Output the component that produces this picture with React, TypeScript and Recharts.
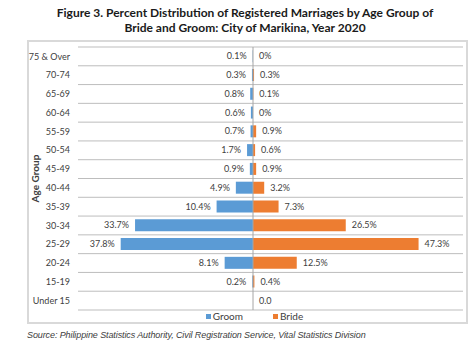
import { BarChart, Bar, XAxis, YAxis, CartesianGrid, Legend, LabelList, ReferenceLine } from "recharts";

// Age groups, top to bottom as in the figure
const ageGroups = [
  "75 & Over", "70-74", "65-69", "60-64", "55-59", "50-54", "45-49",
  "40-44", "35-39", "30-34", "25-29", "20-24", "15-19", "Under 15",
];

// Percent of registered marriages
const groomPct = [0.1, 0.3, 0.8, 0.6, 0.7, 1.7, 0.9, 4.9, 10.4, 33.7, 37.8, 8.1, 0.2, 0];
const bridePct = [0, 0.3, 0.1, 0, 0.9, 0.6, 0.9, 3.2, 7.3, 26.5, 47.3, 12.5, 0.4, 0];

// Data labels as printed
const groomLabels = ["0.1%", "0.3%", "0.8%", "0.6%", "0.7%", "1.7%", "0.9%", "4.9%", "10.4%", "33.7%", "37.8%", "8.1%", "0.2%", ""];
const brideLabels = ["0%", "0.3%", "0.1%", "0%", "0.9%", "0.6%", "0.9%", "3.2%", "7.3%", "26.5%", "47.3%", "12.5%", "0.4%", "0.0"];

const seriesOrder = ["Groom", "Bride"];

const data = ageGroups.map((age, i) => ({
  age,
  groom: -groomPct[i], // drawn to the left of zero
  bride: bridePct[i],
  groomLabel: groomLabels[i],
  brideLabel: brideLabels[i],
}));

const FONT = "Lato, 'Noto Sans', sans-serif";

const makeLabel = (side: "left" | "right") => (props: any) => {
  const box = props.viewBox && props.viewBox.width !== undefined ? props.viewBox : props;
  const { x, y, width, height } = box;
  if (!props.value) return null;
  const left = Math.min(x, x + width);
  const right = Math.max(x, x + width);
  return (
    <text
      x={side === "left" ? left - 6 : right + 6}
      y={y + height / 2}
      dy="0.35em"
      textAnchor={side === "left" ? "end" : "start"}
      fontSize={9}
      fontFamily={FONT}
      fill="#404040"
    >
      {props.value}
    </text>
  );
};

const renderTick = (props: any) => (
  <text x={props.x} y={props.y} dy="0.35em" textAnchor="end" fontSize={9} fontFamily={FONT} fill="#404040">
    {props.payload.value}
  </text>
);

const renderLegend = (props: any) => {
  const items = [...(props.payload || [])].sort(
    (a: any, b: any) => seriesOrder.indexOf(a.value) - seriesOrder.indexOf(b.value)
  );
  return (
    <div style={{ display: "flex", justifyContent: "center", gap: 30, paddingLeft: 18, fontFamily: FONT, fontSize: 10, color: "#404040" }}>
      {items.map((entry: any) => (
        <span key={entry.value} style={{ display: "flex", alignItems: "center" }}>
          <span style={{ width: 5, height: 5, background: entry.color, marginRight: 2, display: "inline-block" }} />
          {entry.value}
        </span>
      ))}
    </div>
  );
};

export default function App() {
  return (
    <div style={{ position: "absolute", left: 0, top: 0, width: 474, height: 354, background: "#fff" }}>
      <div style={{ position: "absolute", top: 5, left: 16, width: 458, textAlign: "center", fontFamily: FONT, fontWeight: 700, fontSize: 12, lineHeight: "15px", color: "#1a1a1a" }}>
        Figure 3. Percent Distribution of Registered Marriages by Age Group of
        <br />
        Bride and Groom: City of Marikina, Year 2020
      </div>
      <div style={{ position: "absolute", left: 27, top: 40, width: 441, height: 284, boxSizing: "border-box", border: "2px solid #d9d9d9" }} />
      <div style={{ position: "absolute", left: 0, top: 0 }}>
        <BarChart
          width={474}
          height={354}
          data={data}
          layout="vertical"
          stackOffset="sign"
          barCategoryGap="17%"
          margin={{ top: 47, right: 11, bottom: 32, left: 28 }}
        >
          <CartesianGrid
            vertical={false}
            stroke="#bdbdbd"
            horizontalCoordinatesGenerator={({ offset }: any) =>
              [...ageGroups, ""].map((_, i) => offset.top + (offset.height * i) / ageGroups.length)
            }
          />
          <XAxis type="number" domain={[-50, 60]} hide />
          <YAxis
            type="category"
            dataKey="age"
            width={50}
            axisLine={false}
            tickLine={false}
            interval={0}
            tick={renderTick}
            label={{ value: "Age Group", angle: -90, position: "insideLeft", offset: 7, style: { textAnchor: "middle", fontSize: 10, fontWeight: 700, fontFamily: FONT, fill: "#404040" } }}
          />
          <ReferenceLine x={0} stroke="#a6a6a6" />
          <Legend verticalAlign="bottom" content={renderLegend} />
          <Bar dataKey="groom" name="Groom" stackId="a" fill="#5B9BD5" minPointSize={0.01} isAnimationActive={false}>
            <LabelList dataKey="groomLabel" content={makeLabel("left")} />
          </Bar>
          <Bar dataKey="bride" name="Bride" stackId="a" fill="#ED7D31" minPointSize={0.01} isAnimationActive={false}>
            <LabelList dataKey="brideLabel" content={makeLabel("right")} />
          </Bar>
        </BarChart>
      </div>
      <div style={{ position: "absolute", left: 27, top: 330, fontFamily: "'Liberation Sans', Arial, sans-serif", fontStyle: "italic", fontSize: 9, letterSpacing: -0.1, color: "#404040", whiteSpace: "nowrap" }}>
        Source: Philippine Statistics Authority, Civil Registration Service, Vital Statistics Division
      </div>
    </div>
  );
}
